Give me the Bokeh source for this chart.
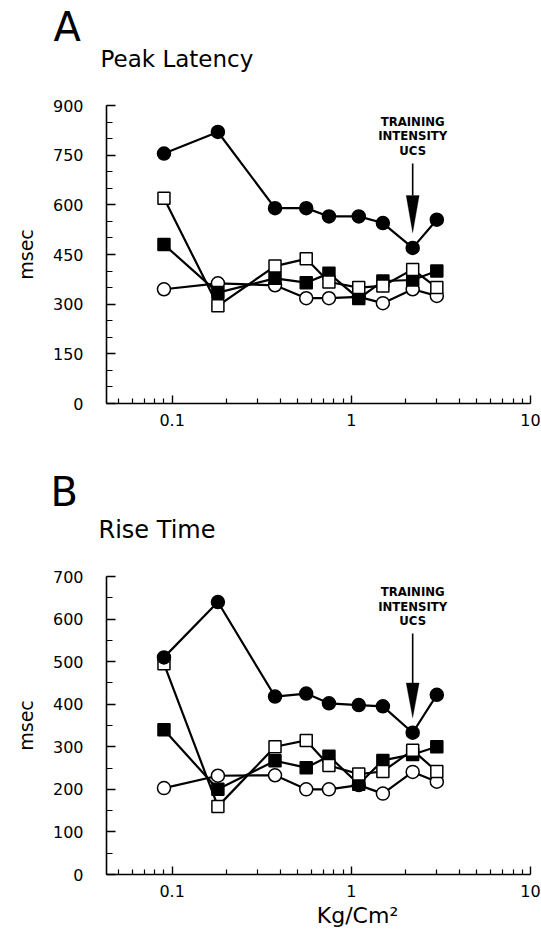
import math
from bokeh.plotting import figure
from bokeh.layouts import column
from bokeh.models import (FixedTicker, SingleIntervalTicker, Label, PolyAnnotation, Range1d)
from bokeh.core.properties import value
from bokeh.embed import file_html
from bokeh.resources import INLINE

# ---- data ----
x_kg = [0.09, 0.18, 0.375, 0.56, 0.75, 1.1, 1.5, 2.2, 3.0]

peak_filled_circle = [755, 820, 590, 590, 565, 565, 545, 470, 555]
peak_open_square = [620, 295, 415, 437, 367, 350, 355, 405, 350]
peak_filled_square = [480, 335, 378, 365, 393, 317, 370, 373, 400]
peak_open_circle = [345, 363, 357, 318, 318, 322, 303, 345, 325]

rise_filled_circle = [510, 640, 418, 425, 402, 398, 395, 333, 422]
rise_open_square = [495, 160, 300, 315, 256, 236, 242, 292, 242]
rise_filled_square = [340, 200, 267, 251, 278, 212, 268, 282, 300]
rise_open_circle = [203, 232, 233, 200, 200, 210, 190, 241, 218]

x_major_ticks = [0.1, 1, 10]
x_minor_ticks = [0.05, 0.06, 0.07, 0.08, 0.09,
                 0.2, 0.3, 0.4, 0.5, 0.6, 0.7, 0.8, 0.9,
                 2, 3, 4, 5, 6, 7, 8, 9]
x_tick_labels = {0.1: "0.1", 1: "1", 10: "10"}

ucs_x = 2.2
peak_arrow = [725, 628, 516]   # shaft top, head base, tip
rise_arrow = [566, 450, 368]
ucs_lines = ["TRAINING", "INTENSITY", "UCS"]

FONT = "DejaVu Sans"
X_START, X_END = 0.043, 10
W = 541
BORDER_L, BORDER_R = 106, 11
FRAME_W = W - BORDER_L - BORDER_R
FRAME_H = 298


def text_strip(height, xs, ys, texts, sizes, align="left"):
    p = figure(width=W, height=height, x_range=Range1d(0, W), y_range=Range1d(height, 0),
               output_backend="svg", toolbar_location=None, title=None,
               x_axis_location=None, y_axis_location=None, min_border=0,
               frame_align=False)
    p.outline_line_color = None
    p.xgrid.visible = False
    p.ygrid.visible = False
    for x, y, t, s in zip(xs, ys, texts, sizes):
        p.text(x=[x], y=[y], text=[t], text_font=value(FONT), text_font_size=s,
               text_align=align, text_baseline="alphabetic", text_color="black")
    return p


def make_panel(fc, osq, fsq, oc, y_max, y_step, n_minor, arrow, border_bottom):
    height = 15 + FRAME_H + border_bottom
    p = figure(width=W, height=height, x_axis_type="log",
               x_range=Range1d(X_START, X_END), y_range=Range1d(0, y_max),
               output_backend="svg", toolbar_location=None, title=None,
               min_border_left=BORDER_L, min_border_right=BORDER_R,
               min_border_top=15, min_border_bottom=border_bottom,
               frame_align=False)
    p.outline_line_color = None
    p.xgrid.visible = False
    p.ygrid.visible = False

    p.xaxis.ticker = FixedTicker(ticks=x_major_ticks, minor_ticks=x_minor_ticks)
    p.xaxis.major_label_overrides = x_tick_labels
    p.yaxis.ticker = SingleIntervalTicker(interval=y_step, num_minor_ticks=n_minor)
    for ax in (p.xaxis[0], p.yaxis[0]):
        ax.axis_line_width = 1.6
        ax.axis_line_color = "black"
        ax.major_tick_line_width = 1.4
        ax.minor_tick_line_width = 1.2
        ax.major_tick_line_color = "black"
        ax.minor_tick_line_color = "black"
        ax.major_tick_out = 0
        ax.minor_tick_out = 0
        ax.major_label_text_font = FONT
        ax.major_label_text_font_size = "16px"
        ax.major_label_text_color = "black"
    p.xaxis.major_tick_in = 8
    p.xaxis.minor_tick_in = 5
    p.yaxis.major_tick_in = 9
    p.yaxis.minor_tick_in = 6
    p.xaxis.major_label_standoff = 10
    p.yaxis.major_label_standoff = 23
    p.yaxis.axis_label = "msec"
    p.yaxis.axis_label_text_font = FONT
    p.yaxis.axis_label_text_font_style = "normal"
    p.yaxis.axis_label_text_font_size = "19px"
    p.yaxis.axis_label_standoff = 13
    p.yaxis.axis_label_text_color = "black"

    for ys in (oc, fsq, osq, fc):
        p.line(x_kg, ys, line_color="black", line_width=2.2)
    p.scatter(x_kg, oc, marker="circle", size=13, fill_color="white",
              line_color="black", line_width=1.5)
    p.scatter(x_kg, fsq, marker="square", size=12, fill_color="black",
              line_color="black", line_width=1.5)
    p.scatter(x_kg, osq, marker="square", size=12, fill_color="white",
              line_color="black", line_width=1.5)
    p.scatter(x_kg, fc, marker="circle", size=13, fill_color="black",
              line_color="black", line_width=1.5)

    # training-intensity arrow
    p.line([ucs_x, ucs_x], [arrow[0], arrow[1]], line_color="black", line_width=1.6)
    decade_px = FRAME_W / math.log10(X_END / X_START)
    half = 10 ** (6.5 / decade_px)
    p.add_layout(PolyAnnotation(xs=[ucs_x / half, ucs_x * half, ucs_x],
                                ys=[arrow[1], arrow[1], arrow[2]],
                                fill_color="black", fill_alpha=1,
                                line_color="black", line_width=1))
    for i, txt in enumerate(ucs_lines):
        p.add_layout(Label(x=ucs_x, y=arrow[0], y_offset=42 - 14.5 * i, text=txt,
                           text_align="center", text_baseline="middle",
                           text_font="DejaVu Sans Condensed", text_font_style="bold",
                           text_font_size="13px", text_color="black"))
    return p


head_a = text_strip(90, [53, 100], [26, 58], ["A", "Peak Latency"], ["40px", "23px"])
top = make_panel(peak_filled_circle, peak_open_square, peak_filled_square,
                 peak_open_circle, 900, 150, 3, peak_arrow, 60)
head_b = text_strip(98, [50, 98], [28, 66], ["B", "Rise Time"], ["40px", "24px"])
bottom = make_panel(rise_filled_circle, rise_open_square, rise_filled_square,
                    rise_open_circle, 700, 100, 2, rise_arrow, 27)
foot = text_strip(40, [357], [14], ["Kg/Cm\u00b2"], ["22px"], align="center")

layout = column(head_a, top, head_b, bottom, foot, spacing=0)
open("out.html", "w").write(file_html(layout, INLINE))
